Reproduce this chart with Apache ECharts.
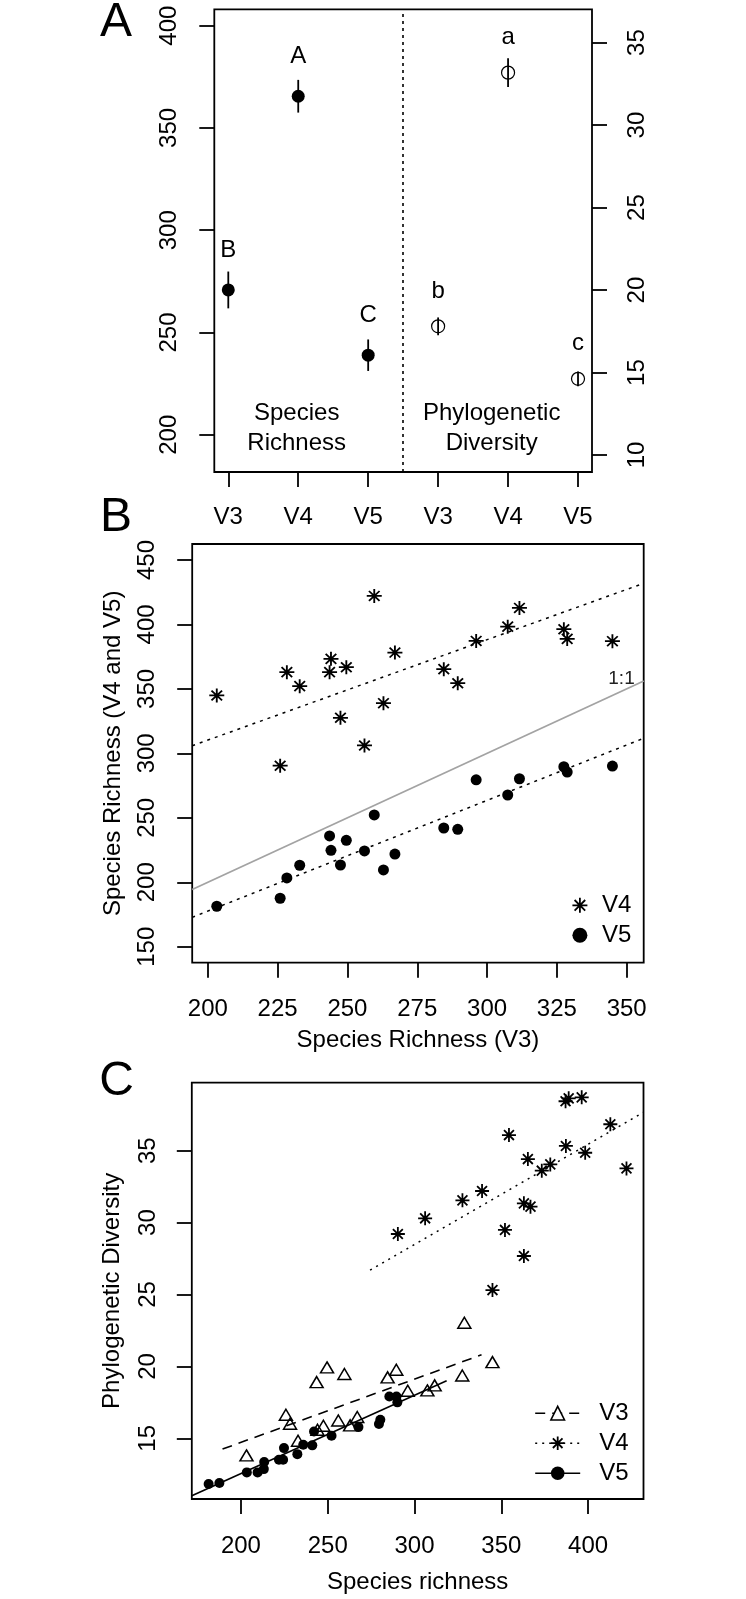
<!DOCTYPE html>
<html>
<head>
<meta charset="utf-8">
<script src="https://cdn.jsdelivr.net/npm/echarts@6.0.0/dist/echarts.min.js"></script>
<style>
html,body{margin:0;padding:0;background:#fff;}
#chart{width:746px;height:1599px;}
</style>
</head>
<body>
<div id="chart"></div>
<script>
// ---------------- DATA ----------------
// Panel A: group means and standard errors
const aPositions = [1, 2, 3, 4, 5, 6];
const aTickLabels = ['V3', 'V4', 'V5', 'V3', 'V4', 'V5'];
const srPos = [1, 2, 3];
const srMean = [270.8, 365.5, 238.9];
const srSE = [9.0, 8.0, 7.7];
const srLetters = ['B', 'A', 'C'];
const pdPos = [4, 5, 6];
const pdMean = [17.8, 33.18, 14.62];
const pdSE = [0.54, 0.87, 0.45];
const pdLetters = ['b', 'a', 'c'];
const aDivider = 3.5;
const aLeftTicks = [200, 250, 300, 350, 400];
const aRightTicks = [10, 15, 20, 25, 30, 35];

// Per-site species richness (panel B) and phylogenetic diversity (panel C)
const sr3 = [203.2, 225.9, 228.3, 232.9, 244.1, 243.6, 249.6, 247.5, 256.1, 259.6, 262.9, 267.0, 284.5, 289.5, 296.1, 307.4, 311.6, 327.5, 328.7, 344.9];
const sr4 = [344.9, 290.4, 363.0, 352.1, 373.3, 363.0, 366.8, 327.6, 306.1, 422.1, 338.9, 378.2, 365.3, 354.4, 387.2, 398.3, 412.8, 396.3, 388.8, 387.0];
const sr5 = [181.4, 187.6, 203.4, 213.2, 224.8, 235.9, 232.5, 213.4, 224.3, 252.2, 209.6, 221.9, 242.1, 241.1, 279.5, 267.7, 280.3, 289.6, 285.5, 290.1];
const pd3 = [13.81, 16.64, 16.01, 14.83, 15.60, 18.91, 19.93, 15.87, 16.24, 19.47, 15.90, 16.48, 19.24, 19.77, 18.31, 18.33, 18.68, 19.37, 23.04, 20.30];
const pd4 = [25.31, 29.21, 27.68, 29.49, 33.61, 31.34, 31.11, 31.55, 30.30, 33.77, 32.20, 34.05, 34.42, 36.09, 35.33, 34.86, 36.84, 38.71, 38.64, 38.44];
const pd5 = [11.82, 11.89, 12.63, 12.86, 14.32, 14.55, 13.90, 13.35, 13.51, 15.18, 12.63, 13.51, 15.48, 14.51, 15.99, 15.78, 16.29, 17.91, 17.91, 17.50];

// Fitted lines (end points)
const bFitV4 = [[194.4, 305.9], [356.1, 431.9]];
const bFitV5 = [[194.4, 172.8], [356.1, 311.7]];
const bOneToOne = [[194.4, 194.4], [356.1, 356.1]];
const cFitV3 = [[189.4, 14.25], [338.6, 20.81]];
const cFitV4 = [[274.4, 26.70], [431.9, 37.67]];
const cFitV5 = [[171.7, 11.01], [318.5, 19.00]];

const bXTicks = [200, 225, 250, 275, 300, 325, 350];
const bYTicks = [150, 200, 250, 300, 350, 400, 450];
const cXTicks = [200, 250, 300, 350, 400];
const cYTicks = [15, 20, 25, 30, 35];

// ---------------- STYLE ----------------
const FONT = "'Liberation Sans', Arial, Helvetica, sans-serif";
const ASTERISK = 'path://M10,0L10,20M0,10L20,10M2.93,2.93L17.07,17.07M2.93,17.07L17.07,2.93';

function mkAxis(o) {
  const ax = {
    type: 'value',
    gridIndex: o.grid,
    min: o.min,
    max: o.max,
    axisLine: {show: false},
    splitLine: {show: false},
    axisTick: {show: true, inside: false, length: 15, customValues: o.ticks,
      lineStyle: {color: '#000', width: 1.8}},
    axisLabel: {show: true, customValues: o.ticks, margin: o.margin, color: '#000',
      fontSize: 24, fontFamily: FONT, rotate: o.rotate || 0},
    nameTextStyle: {color: '#000', fontSize: 24, fontFamily: FONT}
  };
  if (o.position) ax.position = o.position;
  if (o.formatter) ax.axisLabel.formatter = o.formatter;
  if (o.name) { ax.name = o.name; ax.nameLocation = 'middle'; ax.nameGap = o.nameGap; }
  return ax;
}

function zip(xs, ys) { return xs.map((x, i) => [x, ys[i]]); }

function errBar(params, api) {
  const x = api.value(0);
  const a = api.coord([x, api.value(1)]);
  const b = api.coord([x, api.value(2)]);
  return {type: 'line', shape: {x1: a[0], y1: a[1], x2: b[0], y2: b[1]},
    style: {stroke: '#000', lineWidth: 1.8}};
}

const chart = echarts.init(document.getElementById('chart'), null, {renderer: 'canvas'});

const option = {
  animation: false,
  backgroundColor: '#fff',
  textStyle: {fontFamily: FONT, color: '#000'},
  grid: [
    {left: 214.3, top: 9.3, width: 377.7, height: 462.7, show: true, borderColor: '#000', borderWidth: 1.8, backgroundColor: 'transparent'},
    {left: 192.2, top: 544, width: 451.5, height: 418.7, show: true, borderColor: '#000', borderWidth: 1.8, backgroundColor: 'transparent'},
    {left: 191.8, top: 1082.7, width: 451.7, height: 416.3, show: true, borderColor: '#000', borderWidth: 1.8, backgroundColor: 'transparent'}
  ],
  xAxis: [
    mkAxis({grid: 0, min: 0.8, max: 6.2, ticks: aPositions, margin: 33,
      formatter: v => aTickLabels[Math.round(v) - 1]}),
    mkAxis({grid: 1, min: 194.4, max: 356.1, ticks: bXTicks, margin: 35,
      name: 'Species Richness (V3)', nameGap: 66}),
    mkAxis({grid: 2, min: 171.7, max: 431.9, ticks: cXTicks, margin: 35,
      name: 'Species richness', nameGap: 71})
  ],
  yAxis: [
    mkAxis({grid: 0, min: 181.8, max: 408, ticks: aLeftTicks, margin: 33, rotate: 90}),
    mkAxis({grid: 0, min: 8.97, max: 37.02, ticks: aRightTicks, margin: 33, rotate: 90, position: 'right'}),
    mkAxis({grid: 1, min: 137.6, max: 462.4, ticks: bYTicks, margin: 33, rotate: 90,
      name: 'Species Richness (V4 and V5)', nameGap: 67}),
    mkAxis({grid: 2, min: 10.78, max: 39.73, ticks: cYTicks, margin: 31, rotate: 90,
      name: 'Phylogenetic Diversity', nameGap: 67})
  ],
  legend: [
    {
      orient: 'vertical', left: 571.5, top: 893.3, padding: 0,
      itemWidth: 16, itemHeight: 15, itemGap: 6,
      textStyle: {fontSize: 24, fontFamily: FONT, color: '#000', padding: [0, 0, 0, 9]},
      data: [
        {name: 'V4', itemStyle: {color: '#000', borderColor: '#000', borderWidth: 1.8}},
        {name: 'V5', itemStyle: {color: '#000', borderWidth: 0}}
      ],
      selectedMode: false
    },
    {
      orient: 'vertical', left: 534.4, top: 1401.2, padding: 0,
      itemWidth: 45, itemHeight: 17, itemGap: 6,
      lineStyle: {width: 1.6},
      textStyle: {fontSize: 24, fontFamily: FONT, color: '#000', padding: [0, 0, 0, 14]},
      formatter: n => n.replace('C-', ''),
      data: [
        {name: 'C-V3', itemStyle: {color: '#fff', borderColor: '#000', borderWidth: 1.6}},
        {name: 'C-V4', itemStyle: {color: '#000', borderColor: '#000', borderWidth: 1.8}},
        {name: 'C-V5', itemStyle: {color: '#000', borderWidth: 0}}
      ],
      selectedMode: false
    }
  ],
  graphic: [
    {type: 'text', x: 116, y: 23, style: {text: 'A', fontSize: 48, fontFamily: FONT, fill: '#000', align: 'center', verticalAlign: 'middle'}},
    {type: 'text', x: 116, y: 518, style: {text: 'B', fontSize: 48, fontFamily: FONT, fill: '#000', align: 'center', verticalAlign: 'middle'}},
    {type: 'text', x: 116.5, y: 1082, style: {text: 'C', fontSize: 48, fontFamily: FONT, fill: '#000', align: 'center', verticalAlign: 'middle'}},
    {type: 'text', x: 296.7, y: 428, style: {text: 'Species\nRichness', fontSize: 24, lineHeight: 30, fontFamily: FONT, fill: '#000', align: 'center', verticalAlign: 'middle'}},
    {type: 'text', x: 491.7, y: 428, style: {text: 'Phylogenetic\nDiversity', fontSize: 24, lineHeight: 30, fontFamily: FONT, fill: '#000', align: 'center', verticalAlign: 'middle'}},
    {type: 'text', x: 621.5, y: 678.3, style: {text: '1:1', fontSize: 19, fontFamily: FONT, fill: '#222', align: 'center', verticalAlign: 'middle'}}
  ],
  series: [
    // ----- Panel A -----
    {
      type: 'custom', name: 'SR err', xAxisIndex: 0, yAxisIndex: 0, renderItem: errBar, silent: true,
      data: srMean.map((m, i) => [srPos[i], m - srSE[i], m + srSE[i]]),
      markLine: {
        silent: true, symbol: 'none', label: {show: false},
        lineStyle: {color: '#000', width: 1.6, type: [3, 4]},
        data: [{xAxis: aDivider}]
      }
    },
    {
      type: 'scatter', name: 'SR', xAxisIndex: 0, yAxisIndex: 0,
      symbol: 'circle', symbolSize: 13, itemStyle: {color: '#000', opacity: 1},
      label: {show: true, position: 'top', distance: 21, fontSize: 24, fontFamily: FONT, color: '#000',
        formatter: p => srLetters[p.dataIndex]},
      data: zip(srPos, srMean)
    },
    {
      type: 'custom', name: 'PD err', xAxisIndex: 0, yAxisIndex: 1, renderItem: errBar, silent: true,
      data: pdMean.map((m, i) => [pdPos[i], m - pdSE[i], m + pdSE[i]])
    },
    {
      type: 'scatter', name: 'PD', xAxisIndex: 0, yAxisIndex: 1,
      symbol: 'circle', symbolSize: 13,
      itemStyle: {color: 'rgba(0,0,0,0)', borderColor: '#000', borderWidth: 1.2, opacity: 1},
      label: {show: true, position: 'top', distance: 16, fontSize: 24, fontFamily: FONT, color: '#000',
        formatter: p => pdLetters[p.dataIndex]},
      data: zip(pdPos, pdMean)
    },
    // ----- Panel B -----
    {
      type: 'line', name: 'B 1:1', xAxisIndex: 1, yAxisIndex: 2, showSymbol: false, symbol: 'none',
      lineStyle: {color: '#a3a3a3', width: 1.8}, data: bOneToOne, silent: true
    },
    {
      type: 'line', name: 'B fit V4', xAxisIndex: 1, yAxisIndex: 2, showSymbol: false, symbol: 'none',
      lineStyle: {color: '#000', width: 1.5, type: [3, 5]}, data: bFitV4, silent: true
    },
    {
      type: 'line', name: 'B fit V5', xAxisIndex: 1, yAxisIndex: 2, showSymbol: false, symbol: 'none',
      lineStyle: {color: '#000', width: 1.5, type: [3, 5]}, data: bFitV5, silent: true
    },
    {
      type: 'scatter', name: 'V4', xAxisIndex: 1, yAxisIndex: 2,
      symbol: ASTERISK, symbolSize: [15, 14],
      itemStyle: {color: '#000', borderColor: '#000', borderWidth: 1.8, opacity: 1},
      data: zip(sr3, sr4)
    },
    {
      type: 'scatter', name: 'V5', xAxisIndex: 1, yAxisIndex: 2,
      symbol: 'circle', symbolSize: 11, itemStyle: {color: '#000', opacity: 1},
      data: zip(sr3, sr5)
    },
    // ----- Panel C ----- (line series first so legend icons show the line)
    {
      type: 'line', name: 'C-V3', xAxisIndex: 2, yAxisIndex: 3, showSymbol: false, symbol: 'triangle',
      itemStyle: {color: '#000'},
      lineStyle: {color: '#000', width: 1.6, type: [10, 7]}, data: cFitV3, silent: true
    },
    {
      type: 'line', name: 'C-V4', xAxisIndex: 2, yAxisIndex: 3, showSymbol: false, symbol: ASTERISK,
      itemStyle: {color: '#000'},
      lineStyle: {color: '#000', width: 1.6, type: [2, 5]}, data: cFitV4, silent: true
    },
    {
      type: 'line', name: 'C-V5', xAxisIndex: 2, yAxisIndex: 3, showSymbol: false, symbol: 'circle',
      itemStyle: {color: '#000'},
      lineStyle: {color: '#000', width: 1.6}, data: cFitV5, silent: true
    },
    {
      type: 'scatter', name: 'C-V3', xAxisIndex: 2, yAxisIndex: 3,
      symbol: 'triangle', symbolSize: [13, 11],
      itemStyle: {color: 'rgba(0,0,0,0)', borderColor: '#000', borderWidth: 1.5, opacity: 1},
      data: zip(sr3, pd3)
    },
    {
      type: 'scatter', name: 'C-V4', xAxisIndex: 2, yAxisIndex: 3,
      symbol: ASTERISK, symbolSize: 14,
      itemStyle: {color: '#000', borderColor: '#000', borderWidth: 1.8, opacity: 1},
      data: zip(sr4, pd4)
    },
    {
      type: 'scatter', name: 'C-V5', xAxisIndex: 2, yAxisIndex: 3,
      symbol: 'circle', symbolSize: 10, itemStyle: {color: '#000', opacity: 1},
      data: zip(sr5, pd5)
    }
  ]
};

chart.setOption(option);
</script>
</body>
</html>
